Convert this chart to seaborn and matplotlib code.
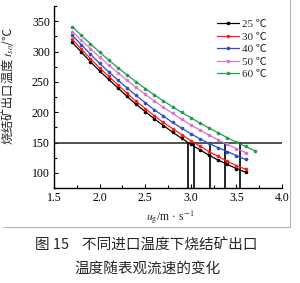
import pandas as pd
import matplotlib
matplotlib.use("Agg")
import matplotlib.pyplot as plt
from matplotlib.lines import Line2D
from matplotlib.ticker import MultipleLocator
import seaborn as sns

# data
u_g = [1.7, 1.8, 1.9, 2.0, 2.1, 2.2, 2.3, 2.4, 2.5, 2.6,
       2.7, 2.8, 2.9, 3.0, 3.1, 3.2, 3.3, 3.4, 3.5, 3.6]
u_g_60 = u_g + [3.7]
t_25 = [315, 299, 283, 268, 254, 240, 226, 213, 201, 189,
        178, 167, 157, 147, 138, 129, 121, 114, 107, 101]
t_30 = [320, 304, 288, 273, 259, 245, 231, 218, 206, 194,
        183, 173, 163, 153, 144, 135, 127, 119, 112, 106]
t_40 = [327, 311, 295.5, 280.5, 266.5, 253, 240, 227.5, 215.5, 204,
        193.5, 183, 173.5, 164.5, 156, 148.5, 141.5, 135, 128.5, 122]
t_50 = [333, 318.5, 304.5, 291, 277.5, 265, 252.5, 241, 229.5, 218.5,
        208, 198, 188.5, 179, 170.5, 162, 154.5, 147, 140, 133.5]
t_60 = [341, 326.5, 312.5, 299, 286, 273.5, 261.5, 250, 239, 228.5,
        218.5, 209, 199.5, 191, 182, 174, 166, 158, 150.5, 143.5, 136.5]
labels = ["25 ℃", "30 ℃", "40 ℃", "50 ℃", "60 ℃"]
colors = ["#000000", "#ff1a1a", "#2a4fc0", "#d676cc", "#1f9e4a"]
limit_t = 150
cross_u = [2.97, 3.04, 3.21, 3.37, 3.54]

frames = []
for lab, xs, ys in zip(labels, [u_g, u_g, u_g, u_g, u_g_60], [t_25, t_30, t_40, t_50, t_60]):
    frames.append(pd.DataFrame({"u": xs, "t": ys, "inlet": lab}))
df = pd.concat(frames, ignore_index=True)

sns.set_theme(style="ticks")
plt.rcParams["font.family"] = ["Liberation Serif", "Noto Sans CJK SC", "DejaVu Sans"]
plt.rcParams["mathtext.fontset"] = "stix"

fig = plt.figure(figsize=(3.0, 2.83), dpi=100)
ax = fig.add_axes([0.18, 0.3357, 0.76, 0.643])

# horizontal limit and drop lines
ax.axhline(limit_t, color="#333333", lw=1.2, zorder=1)
for xc in cross_u:
    ax.plot([xc, xc], [75, limit_t], color="black", lw=1.2, zorder=1)

sns.lineplot(data=df, x="u", y="t", hue="inlet", palette=colors,
             marker="o", markersize=2.6, markeredgewidth=0, lw=0.9,
             ax=ax, zorder=3)

ax.set_xlim(1.5, 4.0)
ax.set_ylim(75, 375)
ax.xaxis.set_minor_locator(MultipleLocator(0.25))
ax.yaxis.set_minor_locator(MultipleLocator(25))
ax.set_yticks([100, 150, 200, 250, 300, 350])
ax.set_xticks([1.5, 2.0, 2.5, 3.0, 3.5, 4.0])
ax.set_xticklabels(["1.5", "2.0", "2.5", "3.0", "3.5", "4.0"])
ax.tick_params(which="both", direction="in", width=0.8, colors="black",
               labelsize=8.5, pad=3)
ax.tick_params(which="major", length=3)
ax.tick_params(which="minor", length=2)
sns.despine(ax=ax)
for s in ["left", "bottom"]:
    ax.spines[s].set_color("black")
    ax.spines[s].set_linewidth(1.0)

ax.set_ylabel("烧结矿出口温度 $t_{so}$/℃", fontsize=8.8,
              family=["Noto Sans CJK SC", "DejaVu Sans"])
ax.yaxis.set_label_coords(-0.165, 0.56)
ax.set_xlabel("$u_{\\rm g}$/m · s$^{-1}$", fontsize=8.5)
ax.xaxis.set_label_coords(0.51, -0.11)

leg = ax.legend(loc="upper left", bbox_to_anchor=(0.68, 0.97), frameon=False,
                fontsize=8, handlelength=2.0, handletextpad=0.3,
                labelspacing=0.25, borderpad=0.2)

# grey frame of the original figure box
fig.add_artist(Line2D([290 / 300, 290 / 300], [1.0, 1 - 227 / 283],
                      transform=fig.transFigure, color="#b5b5b5", lw=0.8))
fig.add_artist(Line2D([0.01, 290 / 300], [1 - 227 / 283, 1 - 227 / 283],
                      transform=fig.transFigure, color="#b5b5b5", lw=0.8))

cap_font = ["Noto Sans CJK SC", "DejaVu Sans"]
fig.text(0.487, 1 - 246 / 283, "图 15    不同进口温度下烧结矿出口",
         ha="center", va="center", fontsize=10.5, family=cap_font)
fig.text(0.493, 1 - 269 / 283, "温度随表观流速的变化",
         ha="center", va="center", fontsize=10.5, family=cap_font)

fig.savefig("out.png", dpi=100)
